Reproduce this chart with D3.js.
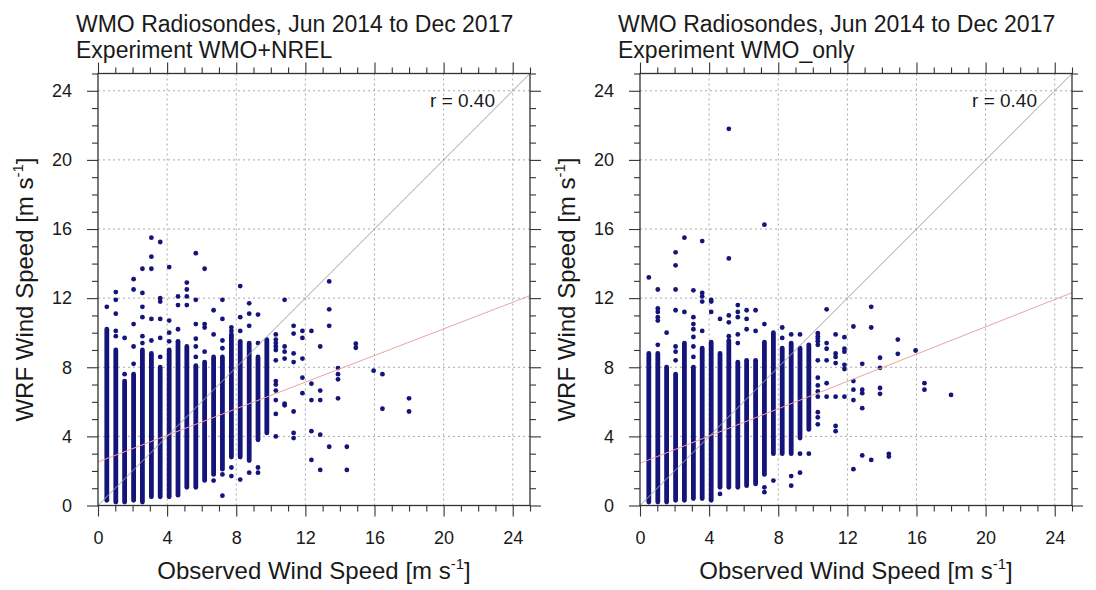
<!DOCTYPE html>
<html>
<head>
<meta charset="utf-8">
<script src="https://cdn.jsdelivr.net/npm/d3@7"></script>
<style>
  body { margin: 0; background: #fff; }
  text { font-family: "Liberation Sans", Arial, Helvetica, sans-serif; fill: #1a1a1a; }
</style>
</head>
<body>
<div id="canvas"></div>
<script>
// -------------------------------------------- Data
// observed speeds are reported in whole knots, so the points fall in columns
const titleLine = "WMO Radiosondes, Jun 2014 to Dec 2017";
const experiments = ["Experiment WMO+NREL", "Experiment WMO_only"];
const rValues = ["0.40", "0.40"];
const majorTicks = [0, 4, 8, 12, 16, 20, 24];

// dense part of each column: observed speed, lowest and highest WRF speed
const nrelBandX = [0.51, 1.03, 1.54, 2.06, 2.57, 3.09, 3.60, 4.12, 4.63, 5.14, 5.66, 6.17, 6.69, 7.20, 7.72, 8.23, 8.75, 9.26, 9.77];
const nrelBandLo = [0.3, 0.2, 0.2, 0.3, 0.2, 0.5, 0.5, 0.5, 0.6, 1.05, 1.05, 1.45, 1.8, 2.1, 2.8, 2.8, 2.6, 3.8, 4.2];
const nrelBandHi = [10.2, 9.0, 7.2, 7.6, 9.0, 8.8, 8.0, 9.0, 9.5, 9.2, 8.1, 8.3, 8.6, 8.6, 9.9, 9.5, 9.4, 8.6, 9.6];

const wmoBandX = [0.51, 1.03, 1.54, 2.06, 2.57, 3.09, 3.60, 4.12, 4.63, 5.14, 5.66, 6.17, 6.69, 7.20, 7.72, 8.23, 8.75, 9.26, 9.77];
const wmoBandLo = [0.2, 0.2, 0.2, 0.3, 0.3, 0.4, 0.4, 0.3, 1.05, 1.05, 1.05, 1.15, 1.25, 1.8, 3.0, 3.0, 3.0, 3.9, 4.4];
const wmoBandHi = [8.8, 8.8, 8.0, 7.6, 9.4, 8.0, 9.1, 9.45, 8.8, 9.55, 8.3, 8.4, 8.4, 9.45, 10.0, 9.1, 9.4, 9.1, 9.3];

// single points outside the dense part: [observed, WRF]
const nrelDots = [
  [0.51, 11.5],
  [1.03, 9.8], [1.03, 10.1], [1.03, 11.1], [1.03, 11.9], [1.03, 12.35],
  [1.54, 7.6], [1.54, 9.7],
  [2.06, 8.2], [2.06, 9.2], [2.06, 10.5], [2.06, 12.5], [2.06, 13.1],
  [2.57, 9.4], [2.57, 9.8], [2.57, 10.9], [2.57, 11.5], [2.57, 12.3], [2.57, 13.7],
  [3.09, 9.55], [3.09, 10.8], [3.09, 13.7], [3.09, 14.4], [3.09, 15.5],
  [3.60, 8.6], [3.60, 9.7], [3.60, 10.8], [3.60, 11.8], [3.60, 12.0], [3.60, 15.25],
  [4.12, 9.5], [4.12, 10.0], [4.12, 10.7], [4.12, 13.8],
  [4.63, 10.2], [4.63, 11.6], [4.63, 12.1],
  [5.14, 11.6], [5.14, 12.1], [5.14, 12.5], [5.14, 12.9],
  [5.66, 8.6], [5.66, 9.2], [5.66, 9.65], [5.66, 10.5], [5.66, 11.9], [5.66, 14.6],
  [6.17, 8.9], [6.17, 10.3], [6.17, 10.5], [6.17, 13.7],
  [6.69, 9.9], [6.69, 11.3], [6.69, 1.44],
  [7.20, 9.1], [7.20, 9.55], [7.20, 10.8], [7.20, 11.9], [7.20, 1.8], [7.20, 0.57],
  [7.72, 10.1], [7.72, 10.3], [7.72, 2.2], [7.72, 1.7],
  [8.23, 10.1], [8.23, 10.9], [8.23, 12.7], [8.23, 1.5],
  [8.75, 10.4], [8.75, 11.1], [8.75, 11.7], [8.75, 1.9],
  [9.26, 9.4], [9.26, 11.05], [9.26, 2.2], [9.26, 1.9],
  [10.29, 9.9], [10.29, 9.6], [10.29, 9.4], [10.29, 9.2], [10.29, 9.0], [10.29, 8.4],
  [10.29, 7.2], [10.29, 7.0], [10.29, 6.65], [10.29, 6.1], [10.29, 5.3], [10.29, 4.0],
  [10.80, 11.9], [10.80, 9.2], [10.80, 8.9], [10.80, 8.5], [10.80, 5.9], [10.80, 5.8],
  [11.32, 10.4], [11.32, 9.95], [11.32, 8.8], [11.32, 8.3], [11.32, 5.44], [11.32, 4.2], [11.32, 3.9],
  [11.83, 10.1], [11.83, 9.7], [11.83, 8.5], [11.83, 7.4], [11.83, 6.5],
  [12.35, 10.1], [12.35, 7.05], [12.35, 6.1], [12.35, 4.3], [12.35, 2.64],
  [12.86, 9.2], [12.86, 6.65], [12.86, 6.1], [12.86, 4.1], [12.86, 2.06],
  [13.38, 12.97], [13.38, 11.35], [13.38, 10.4], [13.38, 3.4],
  [13.89, 7.95], [13.89, 7.6], [13.89, 7.3], [13.89, 6.2],
  [14.40, 3.4], [14.40, 2.06],
  [14.92, 9.36], [14.92, 9.13],
  [15.95, 7.8],
  [16.46, 7.6], [16.46, 5.6],
  [18.0, 6.2], [18.0, 5.44]
];

const wmoDots = [
  [0.51, 13.2],
  [1.03, 9.3], [1.03, 10.7], [1.03, 10.9], [1.03, 11.2], [1.03, 11.4], [1.03, 12.5],
  [1.54, 10.0],
  [2.06, 8.4], [2.06, 8.9], [2.06, 9.2], [2.06, 11.3], [2.06, 12.5], [2.06, 13.9], [2.06, 14.65],
  [2.57, 11.2], [2.57, 15.5],
  [3.09, 8.6], [3.09, 9.2], [3.09, 9.75], [3.09, 10.2], [3.09, 10.5], [3.09, 10.9], [3.09, 12.45],
  [3.60, 10.1], [3.60, 11.8], [3.60, 12.1], [3.60, 12.3], [3.60, 15.3],
  [4.12, 11.2], [4.12, 11.8], [4.12, 11.9],
  [4.63, 10.8], [4.63, 0.67],
  [5.14, 9.8], [5.14, 10.6], [5.14, 11.0], [5.14, 14.3], [5.14, 21.8],
  [5.66, 9.4], [5.66, 9.9], [5.66, 10.9], [5.66, 11.2], [5.66, 11.6],
  [6.17, 10.2], [6.17, 10.8], [6.17, 11.3],
  [6.69, 10.1], [6.69, 11.3],
  [7.20, 10.5], [7.20, 16.25], [7.20, 1.05], [7.20, 0.77],
  [7.72, 1.44],
  [8.23, 9.7], [8.23, 10.3],
  [8.75, 9.9], [8.75, 1.7], [8.75, 1.15],
  [9.26, 9.9], [9.26, 3.0], [9.26, 1.9],
  [9.77, 3.0],
  [10.29, 9.97], [10.29, 9.8], [10.29, 9.65], [10.29, 9.5], [10.29, 9.3], [10.29, 8.4],
  [10.29, 7.4], [10.29, 6.95], [10.29, 6.6], [10.29, 6.3], [10.29, 5.4], [10.29, 5.1], [10.29, 4.7],
  [10.80, 11.35], [10.80, 9.4], [10.80, 9.07], [10.80, 8.4], [10.80, 7.08], [10.80, 6.3],
  [11.32, 9.9], [11.32, 8.8], [11.32, 8.6], [11.32, 8.24], [11.32, 6.3], [11.32, 4.6], [11.32, 4.3],
  [11.83, 9.74], [11.83, 9.07], [11.83, 8.9], [11.83, 8.14], [11.83, 7.9], [11.83, 6.3],
  [12.35, 10.36], [12.35, 7.2], [12.35, 6.7], [12.35, 6.1], [12.35, 2.1],
  [12.86, 8.2], [12.86, 6.7], [12.86, 6.5], [12.86, 5.63], [12.86, 2.9],
  [13.38, 11.5], [13.38, 10.3], [13.38, 2.64],
  [13.89, 8.55], [13.89, 7.97], [13.89, 6.8], [13.89, 6.46],
  [14.40, 2.99], [14.40, 2.83],
  [14.92, 9.6], [14.92, 8.78],
  [15.95, 8.97],
  [16.46, 7.08], [16.46, 6.7],
  [18.0, 6.4]
];

// least squares fit: [intercept, slope]
const nrelFit = [2.52, 0.385];
const wmoFit = [2.44, 0.395];

// -------------------------------------------- Dimensiones
const width = 1096;
const height = 590;
const plotTop = 73.5;
const plotSize = 432;
const panelLeft = [98, 640];
const dotColor = "#14147a";
const dotR = 2.4;

const svg = d3.select("#canvas").append("svg")
  .attr("width", width)
  .attr("height", height);

const x = d3.scaleLinear().domain([0, 25]).range([0, plotSize]);
const y = d3.scaleLinear().domain([0, 25]).range([plotSize, 0]);
const minorTicks = d3.range(0, 26).filter((v) => v % 4 !== 0);

const panels = [
  { bx: nrelBandX, lo: nrelBandLo, hi: nrelBandHi, dots: nrelDots, fit: nrelFit },
  { bx: wmoBandX, lo: wmoBandLo, hi: wmoBandHi, dots: wmoDots, fit: wmoFit }
];

panels.forEach((p, i) => {
  const left = panelLeft[i];
  const g = svg.append("g").attr("transform", `translate(${left},${plotTop})`);

  // ----- titulos
  svg.append("text").attr("x", left - 22).attr("y", 32)
    .style("font-size", "23px").text(titleLine);
  svg.append("text").attr("x", left - 22).attr("y", 58)
    .style("font-size", "23px").text(experiments[i]);

  // ----- grid
  const gridVals = majorTicks.filter((v) => v > 0);
  g.selectAll(".gx").data(gridVals).enter().append("line")
    .attr("x1", (d) => x(d)).attr("x2", (d) => x(d))
    .attr("y1", 0).attr("y2", plotSize)
    .attr("stroke", "#a8a8a8").attr("stroke-dasharray", "2,3");
  g.selectAll(".gy").data(gridVals).enter().append("line")
    .attr("y1", (d) => y(d)).attr("y2", (d) => y(d))
    .attr("x1", 0).attr("x2", plotSize)
    .attr("stroke", "#a8a8a8").attr("stroke-dasharray", "2,3");

  // ----- puntos
  const bands = p.bx.map((v, k) => ({ x: v, lo: p.lo[k], hi: p.hi[k] }));
  g.selectAll(".band").data(bands).enter().append("line")
    .attr("x1", (d) => x(d.x)).attr("x2", (d) => x(d.x))
    .attr("y1", (d) => y(d.lo)).attr("y2", (d) => y(d.hi))
    .attr("stroke", dotColor).attr("stroke-width", dotR * 2)
    .attr("stroke-linecap", "round");
  g.selectAll(".dot").data(p.dots).enter().append("circle")
    .attr("cx", (d) => x(d[0])).attr("cy", (d) => y(d[1]))
    .attr("r", dotR).attr("fill", dotColor);

  // ----- lineas
  g.append("line")
    .attr("x1", x(0)).attr("y1", y(0)).attr("x2", x(25)).attr("y2", y(25))
    .attr("stroke", "#a0a0a0").attr("stroke-width", 1);
  g.append("line")
    .attr("x1", x(0)).attr("y1", y(p.fit[0]))
    .attr("x2", x(25)).attr("y2", y(p.fit[0] + p.fit[1] * 25))
    .attr("stroke", "#eda3a3").attr("stroke-width", 1);

  // ----- ejes
  const axes = [
    [d3.axisBottom(x), `translate(0,${plotSize})`, true],
    [d3.axisLeft(y), "translate(0,0)", true],
    [d3.axisTop(x), "translate(0,0)", false],
    [d3.axisRight(y), `translate(${plotSize},0)`, false]
  ];
  axes.forEach(([ax, tr, labels]) => {
    const scale = ax.scale();
    const mk = (vals, size, lab) => {
      const a = (ax === axes[0][0] ? d3.axisBottom(scale) :
        ax === axes[1][0] ? d3.axisLeft(scale) :
        ax === axes[2][0] ? d3.axisTop(scale) : d3.axisRight(scale))
        .tickValues(vals).tickSizeInner(size).tickSizeOuter(0).tickPadding(15);
      if (!lab) a.tickFormat("");
      const ag = g.append("g").attr("transform", tr).call(a);
      ag.select(".domain").remove();
      ag.selectAll("line").attr("stroke", "#333").attr("stroke-width", 1.1);
      ag.selectAll("text").style("font-size", "18px").attr("fill", "#1a1a1a")
        .style("font-family", '"Liberation Sans", Arial, sans-serif');
      return ag;
    };
    mk(majorTicks, 11, labels);
    mk(minorTicks, 6, false);
  });

  g.append("rect").attr("width", plotSize).attr("height", plotSize)
    .attr("fill", "none").attr("stroke", "#333").attr("stroke-width", 1.3);

  // ----- r
  g.append("text").attr("x", 397).attr("y", 107 - plotTop)
    .attr("text-anchor", "end").style("font-size", "19px")
    .text(`r = ${rValues[i]}`);

  // ----- titulos de ejes
  const xt = svg.append("text").attr("x", left + plotSize / 2).attr("y", 579)
    .attr("text-anchor", "middle").style("font-size", "24px");
  xt.append("tspan").text("Observed Wind Speed [m s");
  xt.append("tspan").attr("dy", -10).style("font-size", "15px").text("-1");
  xt.append("tspan").attr("dy", 10).text("]");

  const yt = svg.append("text")
    .attr("transform", `translate(${left - 65},${plotTop + plotSize / 2}) rotate(-90)`)
    .attr("text-anchor", "middle").style("font-size", "24px");
  yt.append("tspan").text("WRF Wind Speed [m s");
  yt.append("tspan").attr("dy", -10).style("font-size", "15px").text("-1");
  yt.append("tspan").attr("dy", 10).text("]");
});
</script>
</body>
</html>
